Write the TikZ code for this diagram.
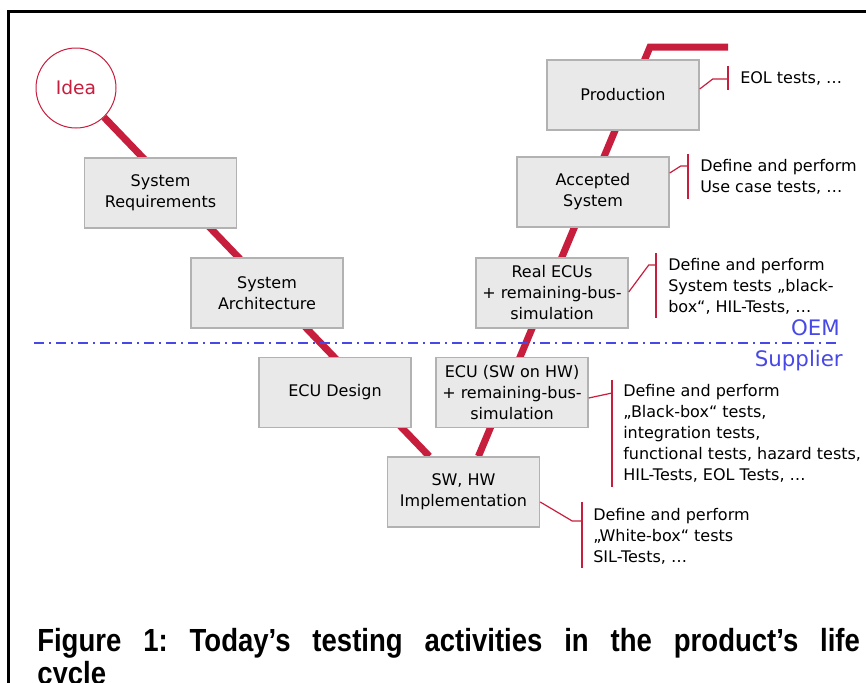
\documentclass[tikz,border=0pt]{standalone}
\usepackage{fontspec}
\setmainfont{DejaVu Sans}
\newfontfamily\capfont{Liberation Sans}[FakeStretch=0.86]
\usetikzlibrary{backgrounds,calc}
\frenchspacing

\definecolor{vred}{RGB}{200,30,62}
\definecolor{boxgray}{RGB}{233,233,233}
\definecolor{boxline}{RGB}{178,178,178}
\definecolor{sideblue}{RGB}{72,72,230}

\tikzset{
  stage/.style={draw=boxline, fill=boxgray, line width=1.1pt, minimum width=114pt,
    minimum height=52.5pt, align=center, inner sep=0pt,
    font=\fontsize{12}{15.75}\selectfont},
  vline/.style={vred, line width=5.25pt},
  note/.style={vred, line width=0.9pt},
  notetext/.style={anchor=west, align=left, inner sep=0pt,
    font=\fontsize{12}{15.75}\selectfont},
  side/.style={sideblue, anchor=east, inner sep=0pt,
    font=\fontsize{16}{19}\selectfont},
}

\begin{document}
\begin{tikzpicture}[x=0.75pt,y=-0.75pt]
\useasboundingbox (0,0) rectangle (866,682);

% frame
\draw[line width=2.25pt] (8.5,700) -- (8.5,11) -- (880,11);

% the V
\node[circle, draw=vred, fill=white, line width=0.75pt, minimum size=60pt,
  inner sep=0pt, text=vred, font=\fontsize{14}{16}\selectfont] (idea) at (76,88) {Idea};

\node[stage] (sysreq)  at (160.5,193) {System\\Requirements};
\node[stage] (sysarch) at (267,293)   {System\\Architecture};
\node[stage] (ecudes)  at (335,392.5) {ECU Design};
\node[stage] (impl)    at (463.5,492) {SW, HW\\Implementation};
\node[stage] (ecuhw)   at (512,392.5) {ECU (SW on HW)\\+ remaining-bus-\\simulation};
\node[stage] (realecu) at (552,293)   {Real ECUs\\+ remaining-bus-\\simulation};
\node[stage] (accept)  at (593,192)   {Accepted\\System};
\node[stage] (prod)    at (623,95)    {Production};

\coordinate (ptop) at (650,47);
\coordinate (pend) at (728,47);

\begin{scope}[on background layer]
  \draw[vline] (idea) -- (impl);
  \draw[vline, line join=miter] (impl) -- (ptop) -- (pend);
\end{scope}

% OEM / supplier border
\draw[sideblue, line width=1.5pt, dash pattern=on 7.5pt off 3.75pt on 1.5pt off 3.75pt]
  (34,343) -- (838,343);
\node[side] (oem) at (840,328) {OEM};
\node[side] (supplier) at (843,361) {Supplier};

% test activities
\coordinate (prodbar) at (728,79);
\draw[note] ($(prod.east)+(0,-6)$) -- ++(13,-10) -- (prodbar);
\draw[note] ($(prodbar)+(0,-13)$) -- ($(prodbar)+(0,11)$);
\node[notetext] (prodtests) at (740,78) {EOL tests, …};

\coordinate (acceptbar) at (688,166);
\draw[note] ($(accept.east)+(0,-19)$) -- ++(11,-7) -- (acceptbar);
\draw[note] ($(acceptbar)+(0,-12)$) -- ($(acceptbar)+(0,33)$);
\node[notetext] (accepttests) at (700,176.5) {Define and perform\\Use case tests, …};

\coordinate (realbar) at (656,265);
\draw[note] ($(realecu.east)+(0,-1)$) -- ++(20,-27) -- (realbar);
\draw[note] ($(realbar)+(0,-12)$) -- ($(realbar)+(0,53)$);
\node[notetext] (realtests) at (668,286.5) {Define and perform\\System tests „black-\\box“, HIL-Tests, …};

\coordinate (ecuhwbar) at (612,393);
\draw[note] ($(ecuhw.east)+(0,5.5)$) -- (ecuhwbar);
\draw[note] ($(ecuhwbar)+(0,-13)$) -- ($(ecuhwbar)+(0,94)$);
\node[notetext] (ecuhwtests) at (623,433.5) {Define and perform\\„Black-box“ tests,\\integration tests,\\functional tests, hazard tests,\\HIL-Tests, EOL Tests, …};

\coordinate (implbar) at (582,521);
\draw[note] ($(impl.east)+(0,10)$) -- ++(32,19) -- (implbar);
\draw[note] ($(implbar)+(0,-19)$) -- ($(implbar)+(0,47)$);
\node[notetext] (impltests) at (593,536) {Define and perform\\„White-box“ tests\\SIL-Tests, …};

% caption
\node[anchor=north west, inner sep=0pt, text width=617pt, align=justify,
  font=\capfont\bfseries\fontsize{24}{25}\selectfont] (caption) at (37,628)
  {Figure 1: Today’s testing activities in the product’s life\linebreak cycle};
\end{tikzpicture}
\end{document}
